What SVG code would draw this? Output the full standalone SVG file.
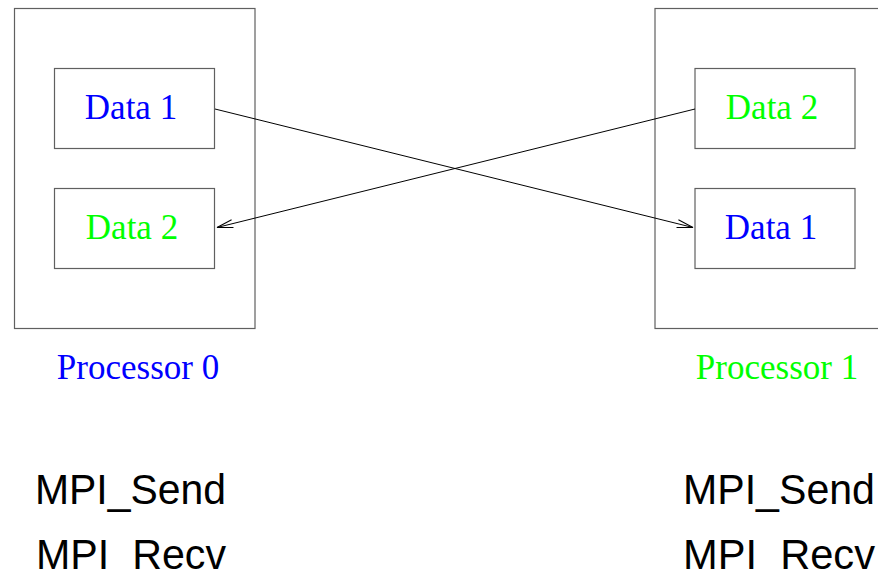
<svg xmlns="http://www.w3.org/2000/svg" width="878" height="574" viewBox="0 0 878 574">
<style>
.box{fill:none;stroke:#606060;stroke-width:1.2}
.lbl{font-family:"Liberation Serif",serif;font-size:35px;text-anchor:middle}
.blue{fill:#0000ff}
.green{fill:#00ff00}
.mpi{font-family:"Liberation Sans",sans-serif;font-size:42px;fill:#000}
.conn{fill:none;stroke:#000;stroke-width:1}
</style>
<defs>
<marker id="arr" markerUnits="userSpaceOnUse" markerWidth="20" markerHeight="20" refX="18" refY="10" orient="auto" overflow="visible">
<path d="M2,6 L18,10 L2,14" fill="none" stroke="#000" stroke-width="1"/>
</marker>
</defs>
<rect width="878" height="574" fill="#fff"/>
<g id="proc0">
<rect class="box" x="14.5" y="8.5" width="240.5" height="320"/>
<text class="lbl blue" x="138" y="379">Processor 0</text>
</g>
<g id="p0data1">
<rect class="box" x="54.5" y="68.5" width="160" height="80"/>
<text class="lbl blue" x="131" y="119">Data 1</text>
</g>
<g id="p0data2">
<rect class="box" x="54.5" y="188.5" width="160" height="80"/>
<text class="lbl green" x="132" y="239">Data 2</text>
</g>
<g id="proc1">
<rect class="box" x="655" y="8.5" width="240" height="320"/>
<text class="lbl green" x="777" y="379">Processor 1</text>
</g>
<g id="p1data2">
<rect class="box" x="695" y="68.5" width="160" height="80"/>
<text class="lbl green" x="772" y="119">Data 2</text>
</g>
<g id="p1data1">
<rect class="box" x="695" y="188.5" width="160" height="80"/>
<text class="lbl blue" x="771" y="239">Data 1</text>
</g>
<g id="connectors">
<line class="conn" x1="215" y1="109" x2="693" y2="227.5" marker-end="url(#arr)"/>
<line class="conn" x1="695" y1="109" x2="217" y2="227.5" marker-end="url(#arr)"/>
</g>
<g id="calls">
<text class="mpi" x="35" y="504" textLength="191" lengthAdjust="spacingAndGlyphs">MPI_Send</text>
<text class="mpi" x="36" y="569" textLength="190" lengthAdjust="spacingAndGlyphs">MPI_Recv</text>
<text class="mpi" x="683" y="504" textLength="192" lengthAdjust="spacingAndGlyphs">MPI_Send</text>
<text class="mpi" x="683" y="569" textLength="192" lengthAdjust="spacingAndGlyphs">MPI_Recv</text>
</g>
</svg>
